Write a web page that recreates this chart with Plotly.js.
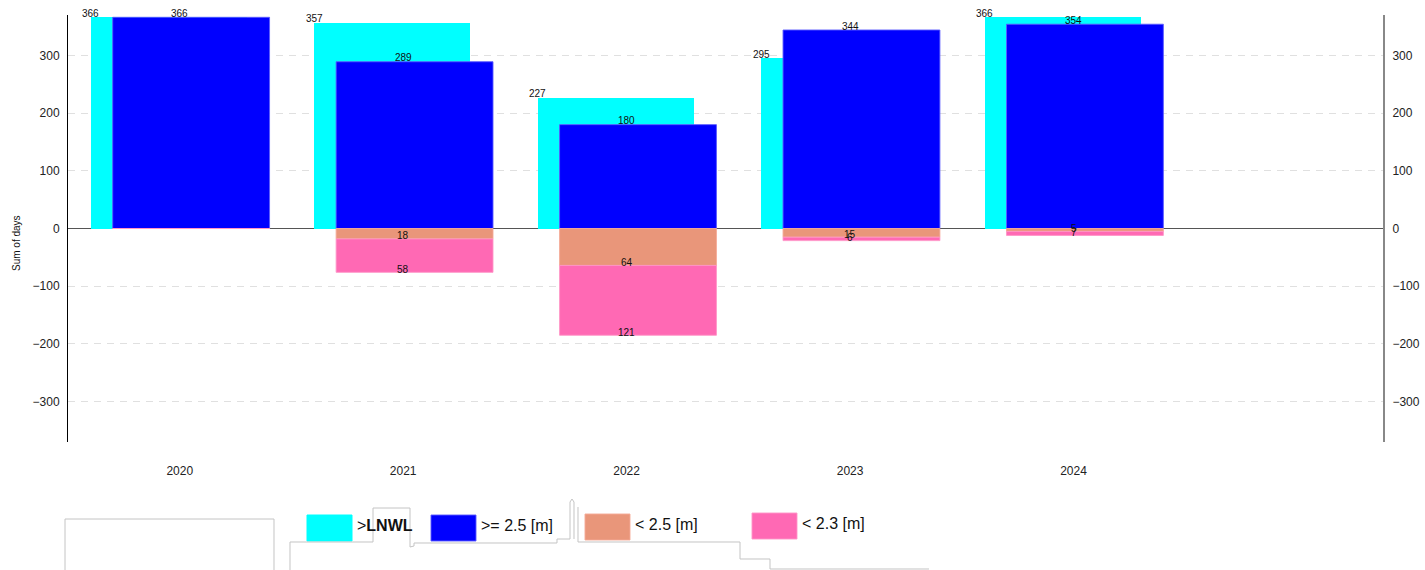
<!DOCTYPE html>
<html>
<head>
<meta charset="utf-8">
<script src="https://cdn.plot.ly/plotly-3.0.1.min.js"></script>
<style>html,body{margin:0;padding:0;background:#fff}#chart{width:1425px;height:570px}</style>
</head>
<body>
<div id="chart"></div>
<script>
// ---- data ----
const years = ['2020', '2021', '2022', '2023', '2024'];
const aboveLNWL = [366, 357, 227, 295, 366];
const ge25 = [366, 289, 180, 344, 354];
const lt25 = [0, 18, 64, 15, 5];
const lt23 = [0, 58, 121, 6, 7];
const seriesNames = ['>LNWL', '>= 2.5 [m]', '< 2.5 [m]', '< 2.3 [m]'];
const seriesLegendText = ['><b>LNWL</b>', '>= 2.5 [m]', '< 2.5 [m]', '< 2.3 [m]'];
const seriesColors = ['#00FFFF', '#0000FF', '#E9967A', '#FF69B4'];
const yTicks = [-300, -200, -100, 0, 100, 200, 300];

// ---- layout constants ----
const W = 1425, H = 570;
const M = {l: 68, r: 42, t: 15, b: 128};
const plotW = W - M.l - M.r, plotH = H - M.t - M.b;
const px = x => (x - M.l) / plotW;
const py = y => (H - M.b - y) / plotH;

const cyanOffset = -0.398, cyanWidth = 0.698;
const blueOffset = -0.3, blueWidth = 0.702;

const negBase = lt25.map(v => -v);
const traces = [
  {type: 'bar', name: seriesNames[0], x: years, y: aboveLNWL, offset: cyanOffset, width: cyanWidth,
   marker: {color: seriesColors[0], line: {width: 0}}, hoverinfo: 'y+name'},
  {type: 'bar', name: seriesNames[1], x: years, y: ge25, offset: blueOffset, width: blueWidth,
   marker: {color: seriesColors[1], line: {width: 1, color: 'rgba(90,90,255,0.9)'}}, hoverinfo: 'y+name'},
  {type: 'bar', name: seriesNames[2], x: years, y: lt25.map(v => -v), base: 0, offset: blueOffset, width: blueWidth,
   marker: {color: seriesColors[2], line: {width: 1, color: 'rgba(245,170,150,0.9)'}}, hoverinfo: 'y+name'},
  {type: 'bar', name: seriesNames[3], x: years, y: lt23.map(v => -v), base: negBase, offset: blueOffset, width: blueWidth,
   marker: {color: seriesColors[3], line: {width: 1, color: 'rgba(255,150,200,0.9)'}}, hoverinfo: 'y+name'},
  {type: 'scatter', mode: 'markers', x: years, y: ge25, yaxis: 'y2', marker: {opacity: 0}, hoverinfo: 'skip', showlegend: false}
];

const labelFont = {family: 'Liberation Sans, Arial, sans-serif', size: 10, color: '#111'};
const annotations = [];
years.forEach((yr, i) => {
  annotations.push({xref: 'x', yref: 'y', x: i + cyanOffset, y: aboveLNWL[i], text: String(aboveLNWL[i]),
    showarrow: false, yanchor: 'middle', yshift: 4, font: labelFont});
  annotations.push({xref: 'x', yref: 'y', x: i, y: ge25[i], text: String(ge25[i]),
    showarrow: false, yanchor: 'middle', yshift: 4, font: labelFont});
  if (lt25[i] > 0) annotations.push({xref: 'x', yref: 'y', x: i, y: -lt25[i], text: String(lt25[i]),
    showarrow: false, yanchor: 'middle', yshift: 3, font: labelFont});
  if (lt23[i] > 0) annotations.push({xref: 'x', yref: 'y', x: i, y: -(lt25[i] + lt23[i]), text: String(lt23[i]),
    showarrow: false, yanchor: 'middle', yshift: 3, font: labelFont});
});

// y-axis title
annotations.push({xref: 'paper', yref: 'paper', x: px(17), y: py(243), text: 'Sum of days', textangle: -90,
  showarrow: false, xanchor: 'center', yanchor: 'middle', font: {family: 'Liberation Sans, Arial, sans-serif', size: 10, color: '#111'}});

// custom legend
const legendSw = [[307, 515], [431, 515], [585, 514], [752, 513]];
const shapes = [];
legendSw.forEach((p, k) => {
  shapes.push({type: 'rect', xref: 'paper', yref: 'paper', x0: px(p[0]), x1: px(p[0] + 45), y0: py(p[1] + 26), y1: py(p[1]),
    fillcolor: seriesColors[k], line: {width: 1, color: k === 0 ? seriesColors[0] : traces[k].marker.line.color}});
  annotations.push({xref: 'paper', yref: 'paper', x: px(p[0] + 48), y: py(p[1] + 10), text: seriesLegendText[k],
    showarrow: false, xanchor: 'left', yanchor: 'middle', font: {family: 'Liberation Sans, Arial, sans-serif', size: 16, color: '#111'}});
});

// faint outline artefacts at the bottom of the picture
function pathFrom(segs) {
  return segs.map(seg => seg.map((p, j) => (j ? 'L' : 'M') + px(p[0]).toFixed(5) + ',' + py(p[1]).toFixed(5)).join(' ')).join(' ');
}
const outline = [
  [[65, 570], [65, 519], [274, 519], [274, 570]],
  [[290, 570], [290, 542], [373, 542], [373, 508], [410, 508], [410, 547], [414, 546], [414, 543], [557, 543], [557, 539], [570, 539], [570, 502], [572, 499], [574, 502], [574, 539]],
  [[578, 507], [578, 542], [740, 542], [740, 559], [770, 559], [770, 569], [929, 569]]
];
shapes.push({type: 'path', xref: 'paper', yref: 'paper', path: pathFrom(outline), line: {color: '#c4c4c4', width: 1}, layer: 'above'});

const tickFont = {family: 'Liberation Sans, Arial, sans-serif', size: 12, color: '#222'};
const layout = {
  width: W, height: H,
  margin: M,
  paper_bgcolor: '#fff', plot_bgcolor: '#fff',
  barmode: 'overlay',
  bargap: 0,
  showlegend: false,
  xaxis: {type: 'category', range: [-0.5, 5.385], showgrid: false, showline: false, zeroline: false,
    ticks: 'outside', ticklen: 18, tickcolor: 'rgba(0,0,0,0)', tickfont: tickFont, fixedrange: true},
  yaxis: {range: [-370, 370], tickvals: yTicks, showgrid: true, gridcolor: '#e0e0e0', griddash: '7px,6px', gridwidth: 1,
    zeroline: true, zerolinecolor: '#555', zerolinewidth: 1,
    showline: true, linecolor: '#000', linewidth: 1,
    ticks: 'outside', ticklen: 5, tickcolor: 'rgba(0,0,0,0)', tickfont: tickFont},
  yaxis2: {range: [-370, 370], tickvals: yTicks, overlaying: 'y', side: 'right', showgrid: false, zeroline: false,
    showline: true, linecolor: '#888', linewidth: 2,
    ticks: 'outside', ticklen: 5, tickcolor: 'rgba(0,0,0,0)', tickfont: tickFont},
  annotations: annotations,
  shapes: shapes
};

Plotly.newPlot('chart', traces, layout, {displayModeBar: false, staticPlot: true});
</script>
</body>
</html>
